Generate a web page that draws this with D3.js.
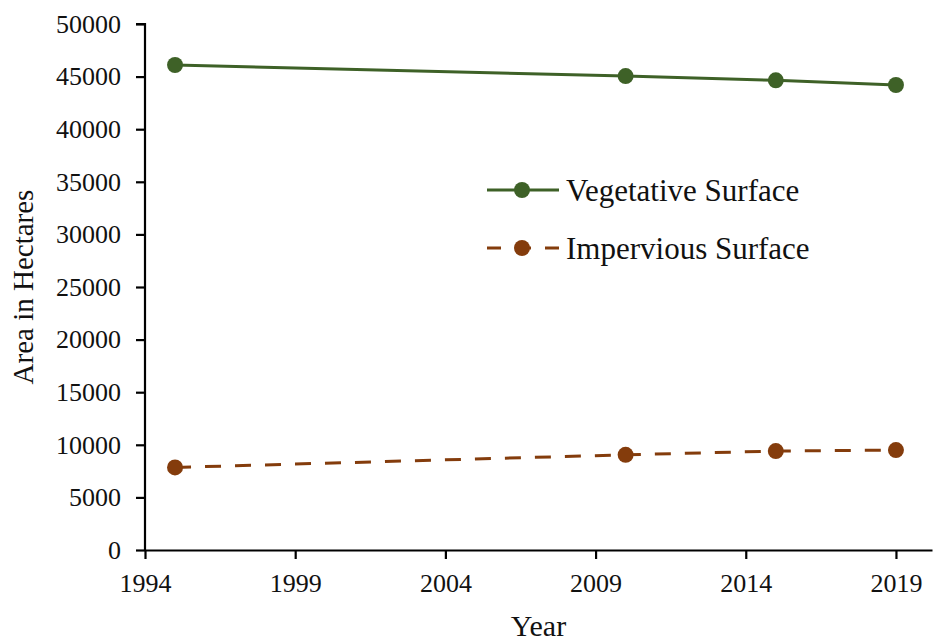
<!DOCTYPE html>
<html>
<head>
<meta charset="utf-8">
<script src="https://cdn.jsdelivr.net/npm/d3@7"></script>
<style>
  body { margin: 0; background: #fff; }
  svg text { font-family: "Liberation Serif", "Times New Roman", serif; fill: #111; }
</style>
</head>
<body>
<script>
// Data
const years = [1995, 2010, 2015, 2019];
const vegetative = [46100, 45050, 44650, 44200];
const impervious = [7850, 9050, 9400, 9500];
const xTicks = [1994, 1999, 2004, 2009, 2014, 2019];
const yTicks = [0, 5000, 10000, 15000, 20000, 25000, 30000, 35000, 40000, 45000, 50000];
const seriesNames = ["Vegetative Surface", "Impervious Surface"];
const seriesColors = ["#3e6127", "#843c0c"];

const margin = { top: 24, right: 1, bottom: 92, left: 145 };
const width = 933 - margin.left - margin.right;
const height = 642 - margin.top - margin.bottom;

const svg = d3.select("body")
    .append("svg")
    .attr("width", 933)
    .attr("height", 642)
    .append("g")
    .attr("transform", `translate(${margin.left},${margin.top})`);

const xScale = d3.scaleLinear().domain([1994, 2020.2]).range([0, width]);
const yScale = d3.scaleLinear().domain([0, 50000]).range([height, 0]);

// Axes
const yAxis = svg.append("g")
    .call(d3.axisLeft(yScale).tickValues(yTicks).tickSize(9).tickSizeOuter(0).tickPadding(15).tickFormat(d3.format("d")));
const xAxis = svg.append("g")
    .attr("transform", `translate(0,${height})`)
    .call(d3.axisBottom(xScale).tickValues(xTicks).tickSize(9).tickSizeOuter(0).tickPadding(15).tickFormat(d3.format("d")));

[xAxis, yAxis].forEach(a => {
    a.attr("font-size", null).attr("font-family", null);
    a.selectAll("path, line").attr("stroke", "#000").attr("stroke-width", 2.2);
    a.selectAll("text").style("font-size", "26px");
});
yAxis.select(".domain").attr("d", `M-9,0H0V${height}`);

// Axis labels
svg.append("text")
    .attr("x", xScale(2007.1))
    .attr("y", height + 86)
    .style("text-anchor", "middle")
    .style("font-size", "30px")
    .text("Year");

svg.append("text")
    .attr("transform", "rotate(-90)")
    .attr("x", -yScale(25000))
    .attr("y", -margin.left + 33)
    .style("text-anchor", "middle")
    .style("font-size", "29px")
    .text("Area in Hectares");

// Lines
const series = [vegetative, impervious];
const line = d3.line().x((d, i) => xScale(years[i])).y(d => yScale(d));

series.forEach((vals, s) => {
    svg.append("path")
        .datum(vals)
        .attr("fill", "none")
        .attr("stroke", seriesColors[s])
        .attr("stroke-width", 3)
        .attr("stroke-dasharray", s === 1 ? "16,14" : null)
        .attr("d", line);

    svg.selectAll(".pt" + s)
        .data(vals)
        .enter()
        .append("circle")
        .attr("cx", (d, i) => xScale(years[i]))
        .attr("cy", d => yScale(d))
        .attr("r", 8)
        .attr("fill", seriesColors[s]);
});

// Legend
const legend = svg.selectAll(".legend")
    .data(seriesNames)
    .enter()
    .append("g")
    .attr("transform", (d, i) => `translate(${487 - margin.left},${166 + i * 58})`);

legend.append("line")
    .attr("x1", 0)
    .attr("x2", 72)
    .attr("stroke", (d, i) => seriesColors[i])
    .attr("stroke-width", 3)
    .attr("stroke-dasharray", (d, i) => i === 1 ? "14,14,16,14,14" : null);

legend.append("circle")
    .attr("cx", 35)
    .attr("r", 8)
    .attr("fill", (d, i) => seriesColors[i]);

legend.append("text")
    .attr("x", 79)
    .attr("dy", "0.35em")
    .style("font-size", "31px")
    .text(d => d);
</script>
</body>
</html>
